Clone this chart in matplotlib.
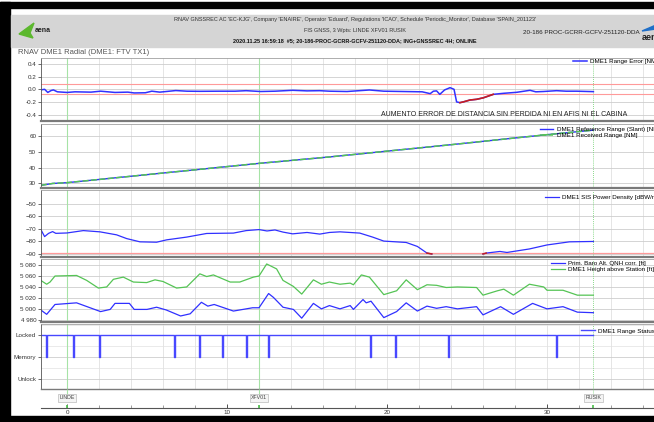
import numpy as np
import matplotlib.pyplot as plt
from matplotlib.patches import Rectangle, Polygon
from matplotlib.ticker import MultipleLocator, FuncFormatter

plt.rcParams['font.family'] = ['Liberation Sans', 'DejaVu Sans']

# ---- values ----
waypoint_names = ['LINDE', 'XFV01', 'RUSIK']
waypoint_x = [0.0, 12.0, 32.9]

# DME1 range error [NM]
err_x = [-1.64, -1.4, -1.2, -1.0, -0.85, -0.6, 0.0, 0.5, 1.5, 2.1, 3.0, 3.8, 4.2, 4.9,
         5.3, 5.8, 6.8, 7.5, 8.3, 9.5, 10.5, 11.2, 12.1, 13.0, 14.1, 15.0, 15.8, 16.4,
         17.5, 18.9, 19.8, 21.0, 22.2, 22.7, 22.9, 23.1, 23.3, 23.6, 23.94, 24.19, 24.35,
         24.56, 24.77, 25.19, 25.6, 26.02, 26.64, 27.27, 28.1, 28.94, 29.3, 29.77, 30.6,
         31.2, 31.85, 32.9]
err_y = [-0.01, 0.0, -0.05, -0.02, -0.01, -0.04, -0.05, -0.04, -0.045, -0.03, -0.05,
         -0.045, -0.058, -0.055, -0.03, -0.045, -0.02, -0.03, -0.032, -0.03, -0.03,
         -0.022, -0.035, -0.03, -0.016, -0.025, -0.022, -0.03, -0.035, -0.011, -0.03,
         -0.035, -0.04, -0.069, -0.03, -0.025, -0.08, -0.01, 0.026, 0.0, -0.2, -0.212,
         -0.2, -0.17, -0.159, -0.135, -0.08, -0.064, -0.048, -0.016, -0.04, -0.035,
         -0.022, -0.03, -0.03, -0.037]
err_limit = 0.08
err_alarm = (24.5, 26.7)

# DME1 reference / received range [NM]
range_x = [-1.64, -0.9, 0.0, 4.0, 8.0, 12.0, 16.4, 20.0, 24.0, 28.0, 30.2, 32.9]
ref_range = [28.7, 29.9, 30.4, 34.5, 38.6, 42.7, 46.8, 50.5, 54.6, 58.9, 61.2, 63.9]
rcv_range = [28.7, 29.9, 30.4, 34.5, 38.6, 42.7, 46.8, 50.5, 54.6, 58.9, 61.2, 63.9]

# DME1 SIS power density [dBW/m2]
sis_x = [-1.64, -1.4, -1.15, -0.9, -0.7, 0.0, 1.02, 2.06, 3.1, 3.73, 4.56, 5.6, 6.23,
         7.48, 8.73, 10.4, 11.2, 12.0, 12.5, 13.0, 13.5, 14.1, 15.0, 15.8, 16.4, 17.06,
         18.3, 19.1, 19.8, 21.2, 21.9, 22.5, 22.8, 24.4, 26.0, 26.2, 27.06, 27.5, 28.9,
         30.0, 31.4, 32.9]
sis_y = [-70.3, -76.1, -73.5, -72.1, -73.5, -73.2, -71.3, -72.3, -74.7, -77.7, -80.3,
         -80.6, -78.7, -76.5, -73.6, -73.3, -71.3, -70.5, -71.6, -70.8, -72.5, -73.9,
         -72.8, -74.1, -72.8, -72.3, -73.3, -76.5, -79.7, -80.8, -84.0, -89.3, -90.0,
         np.nan, -90.0, -89.3, -88.0, -88.8, -86.0, -82.8, -80.3, -80.0]
sis_limit = -89.5

# altitudes [ft]
baro_x = [-1.64, -1.27, -0.75, 0.6, 2.1, 2.7, 3.0, 3.9, 4.2, 5.0, 5.6, 6.2, 7.1, 7.7,
          8.4, 8.8, 9.2, 10.4, 11.0, 11.6, 12.0, 12.6, 12.9, 13.5, 14.15, 14.67, 15.4,
          15.9, 16.4, 17.06, 17.7, 17.9, 18.5, 18.7, 19.0, 19.8, 20.6, 21.2, 21.9, 22.5,
          23.1, 23.7, 24.4, 25.6, 26.0, 27.1, 27.9, 29.1, 30.0, 31.0, 31.9, 32.9]
baro_y = [4998, 4990, 5008, 5011, 4995, 4999, 5010, 5010, 4999, 4999, 5003, 4998, 4987,
          4991, 5012, 5005, 5008, 4996, 4999, 5002, 5002, 5028, 5021, 5003, 4999, 4983,
          5010, 5000, 5006, 5000, 5006, 4999, 5017, 5011, 5014, 4984, 4995, 5011, 4996,
          5005, 5001, 5004, 5000, 5004, 4989, 5004, 4990, 5010, 5000, 5004, 4994, 4993]
hgt_x = [-1.64, -1.27, -1.06, -0.75, 0.6, 1.23, 1.96, 2.48, 2.9, 3.52, 4.15, 4.98, 5.5,
         6.0, 6.85, 7.48, 8.3, 8.73, 9.15, 10.2, 10.8, 11.65, 12.0, 12.48, 13.1, 13.5,
         14.15, 14.67, 15.4, 15.9, 16.4, 17.06, 17.7, 17.9, 18.4, 18.9, 19.8, 20.6, 21.2,
         21.9, 22.5, 23.1, 23.7, 24.4, 25.6, 26.0, 26.9, 27.3, 27.9, 28.9, 29.8, 30.0,
         31.0, 31.9, 32.9]
hgt_y = [5052, 5045, 5049, 5060, 5061, 5052, 5038, 5040, 5054, 5058, 5049, 5048, 5053,
         5050, 5038, 5040, 5064, 5059, 5062, 5049, 5049, 5058, 5060, 5082, 5073, 5052,
         5041, 5027, 5053, 5045, 5049, 5045, 5047, 5044, 5062, 5058, 5026, 5033, 5053,
         5035, 5044, 5043, 5039, 5040, 5039, 5025, 5033, 5036, 5025, 5045, 5040, 5034,
         5034, 5025, 5025]

# DME1 range status: locked, with short drops to memory
status_levels = ['Unlock', 'Memory', 'Locked']
status_start, status_end = -1.64, 32.9
memory_dips = [-1.33, 0.36, 2.0, 6.7, 8.23, 9.7, 11.17, 12.56, 18.96, 20.5, 23.8, 30.56]

# ---- figure ----
W, H = 654, 422
fig = plt.figure(figsize=(W / 100, H / 100), dpi=100)


def fx(px):
    return px / W


def fy(py):
    return 1 - py / H


X0, PPU = 67, 16  # pixel of x = 0 and pixels per NM
XL = ((41 - X0) / PPU, (660 - X0) / PPU)

BLUE = '#3030ff'
GREEN = '#55c455'
LGREEN = '#a6e3a6'
DRED = '#c81e1e'
LRED = '#ff9a9a'
TXT = '#333333'

# frame, header
fig.patches.append(Rectangle((0, fy(8)), 1, fy(2) - fy(8), transform=fig.transFigure,
                             color='black', zorder=0))
fig.patches.append(Rectangle((0, 0), fx(10), fy(2), transform=fig.transFigure,
                             color='black', zorder=0))
fig.patches.append(Rectangle((0, 0), 1, fy(416), transform=fig.transFigure,
                             color='black', zorder=0))
fig.patches.append(Rectangle((fx(11), fy(47)), 1, fy(15) - fy(47), transform=fig.transFigure,
                             color='#d5d5d5', zorder=0))
fig.patches.append(Polygon([(fx(19), fy(34)), (fx(34), fy(23)), (fx(30), fy(33)), (fx(33), fy(38))],
                           closed=True, transform=fig.transFigure, color='#5cb82e'))
fig.text(fx(35), fy(31), 'aena', fontsize=5, weight='bold', va='center', color='#222222')
fig.patches.append(Polygon([(fx(642), fy(31)), (fx(656), fy(25)), (fx(656), fy(29))],
                           closed=True, transform=fig.transFigure, color='#1f6fc8'))
fig.text(fx(642), fy(38), 'aena', fontsize=6.5, weight='bold', va='center', color='#222222')

fig.text(fx(355), fy(20), "RNAV GNSSREC AC 'EC-KJG', Company 'ENAIRE', Operator 'Eduard', "
         "Regulations 'ICAO', Schedule 'Periodic_Monitor', Database 'SPAIN_201123'",
         ha='center', va='center', fontsize=4.0, color=TXT)
fig.text(fx(355), fy(30.5), 'FIS GNSS, 3 Wpts: LINDE XFV01 RUSIK',
         ha='center', va='center', fontsize=4.0, color=TXT)
fig.text(fx(355), fy(41), '2020.11.25 16:59:18  #5; 20-186-PROC-GCRR-GCFV-251120-DDA; '
         'ING+GNSSREC 4H; ONLINE', ha='center', va='center', fontsize=4.0,
         weight='bold', color='#111111')
fig.text(fx(523), fy(32), '20-186 PROC-GCRR-GCFV-251120-DDA', va='center',
         fontsize=4.5, color='#222222')
fig.text(fx(18), fy(52), 'RNAV DME1 Radial (DME1: FTV TX1)', va='center',
         fontsize=5.5, color='#555555')


def panel(top, bottom, ylim, yticks):
    ax = fig.add_axes([fx(41), fy(bottom), (660 - 41) / W, (bottom - top) / H])
    ax.set_xlim(XL)
    ax.set_ylim(ylim)
    ax.set_yticks(yticks)
    ax.xaxis.set_major_locator(MultipleLocator(2))
    ax.tick_params(axis='x', length=0, labelbottom=False)
    ax.tick_params(axis='y', labelsize=4.5, length=2, width=0.5, pad=1.5, colors=TXT)
    ax.grid(axis='x', color='#e0e0e0', lw=0.6)
    ax.grid(axis='y', color='#cdcdcd', lw=0.6)
    ax.set_axisbelow(True)
    ax.spines['right'].set_visible(False)
    ax.spines['left'].set_color('#555555')
    ax.spines['left'].set_linewidth(0.6)
    ax.spines['top'].set_color('#a0a0a0')
    ax.spines['top'].set_linewidth(0.6)
    ax.spines['bottom'].set_color('#7a7a7a')
    ax.spines['bottom'].set_linewidth(1.6)
    for wx in waypoint_x[:2]:
        ax.axvline(wx, color=LGREEN, lw=0.8, zorder=1)
    ax.axvline(waypoint_x[2], color='#66cc66', lw=0.6, ls=(0, (1, 1.5)), zorder=1)
    return ax


def legend(ax, handles, labels, text_px, top_px):
    ax.legend(handles, labels, loc='upper left', bbox_to_anchor=(fx(text_px - 17), fy(top_px)),
              bbox_transform=fig.transFigure, frameon=False, fontsize=4.5, handlelength=2.2,
              handletextpad=0.5, borderpad=0, borderaxespad=0, labelspacing=0.15)


# panel 1: range error
ax1 = panel(57.8, 120.8, (-0.5, 0.5), [-0.4, -0.2, 0.0, 0.2, 0.4])
ax1.yaxis.set_major_formatter(FuncFormatter(lambda v, p: f'{v:.1f}'))
ax1.axhline(err_limit, color=LRED, lw=0.8)
ax1.axhline(-err_limit, color=LRED, lw=0.8)
ex, ey = np.array(err_x), np.array(err_y)
l1, = ax1.plot(ex, ey, color=BLUE, lw=1.1)
ax1.plot(ex, np.where((ex >= err_alarm[0]) & (ex <= err_alarm[1]), ey, np.nan), color=DRED, lw=1.2)
legend(ax1, [l1], ['DME1 Range Error [NM]'], 590, 58.5)
fig.text(fx(504), fy(114.5), 'AUMENTO ERROR DE DISTANCIA SIN PERDIDA NI EN AFIS NI EL CABINA',
         ha='center', va='center', fontsize=5, color='#222222')

# panel 2: range
ax2 = panel(124, 187.7, (27.2, 67.8), [30, 40, 50, 60])
l2a, = ax2.plot(range_x, ref_range, color=BLUE, lw=1.0)
l2b, = ax2.plot(range_x, rcv_range, color=GREEN, lw=1.1, ls=(0, (4, 1.5)))
legend(ax2, [l2a, l2b], ['DME1 Reference Range (Slant) [NM]', 'DME1 Received Range [NM]'],
       556.7, 126.5)

# panel 3: SIS power density
ax3 = panel(190, 256.7, (-92.2, -38.8), [-90, -80, -70, -60, -50])
ax3.axhline(sis_limit, color=LRED, lw=0.9)
sx, sy = np.array(sis_x), np.array(sis_y)
l3, = ax3.plot(sx, sy, color=BLUE, lw=0.9)
ax3.plot(sx, np.where(sy <= -89, sy, np.nan), color=DRED, lw=1.1)
legend(ax3, [l3], ['DME1 SIS Power Density [dBW/m²]'], 562, 194.2)

# panel 4: altitudes
ax4 = panel(258.5, 322, (4976, 5092), [4980, 5000, 5020, 5040, 5060, 5080])
ax4.yaxis.set_major_formatter(FuncFormatter(lambda v, p: f'{v:,.0f}'.replace(',', ' ')))
l4a, = ax4.plot(baro_x, baro_y, color=BLUE, lw=0.9)
l4b, = ax4.plot(hgt_x, hgt_y, color=GREEN, lw=0.9)
legend(ax4, [l4a, l4b], ['Prim. Baro Alt. QNH corr. [ft]', 'DME1 Height above Station [ft]'],
       568, 260.5)

# panel 5: range status
ax5 = panel(324, 389, (-0.47, 2.53), [0, 1, 2])
ax5.set_yticklabels(status_levels)
ax5.yaxis.set_minor_locator(MultipleLocator(0.5))
ax5.grid(axis='y', which='minor', color='#e2e2e2', lw=0.5)
ax5.tick_params(axis='y', which='minor', length=0)
ax5.spines['bottom'].set_linewidth(1.0)
st_x, st_y = [status_start], [2]
for d in memory_dips:
    st_x += [d, d, d + 0.06, d + 0.06]
    st_y += [2, 1, 1, 2]
st_x.append(status_end)
st_y.append(2)
l5, = ax5.plot(st_x, st_y, color='#4848ff', lw=1.0)
legend(ax5, [l5], ['DME1 Range Status'], 598, 328.2)

# bottom distance axis with waypoint markers
axb = fig.add_axes([fx(41), fy(408.3), (660 - 41) / W, (408.3 - 389) / H])
axb.set_xlim(XL)
axb.set_ylim(0, 1)
axb.patch.set_alpha(0)
for s in ('left', 'right', 'top'):
    axb.spines[s].set_visible(False)
axb.spines['bottom'].set_color('#555555')
axb.spines['bottom'].set_linewidth(0.8)
axb.set_yticks([])
axb.xaxis.set_major_locator(MultipleLocator(10))
axb.xaxis.set_minor_locator(MultipleLocator(2))
axb.tick_params(axis='x', which='major', direction='in', length=3, width=0.6,
                labelsize=4.5, pad=1.5, colors=TXT)
axb.tick_params(axis='x', which='minor', direction='in', length=2, width=0.5, colors='#777777')
axb.vlines(waypoint_x, 0, 0.18, color=GREEN, lw=1.3)
axb.vlines(waypoint_x[:2], 0.75, 1.0, color=LGREEN, lw=0.8)
axb.vlines(waypoint_x[2:], 0.75, 1.0, color='#66cc66', lw=0.6, ls=(0, (1, 1.5)))
for name, wx in zip(waypoint_names, waypoint_x):
    axb.text(wx, 0.55, name, ha='center', va='center', fontsize=3.8, color='#444444',
             bbox=dict(boxstyle='square,pad=0.25', fc='#f4f4f4', ec='#aaaaaa', lw=0.4))

fig.savefig('out.png', dpi=100)
